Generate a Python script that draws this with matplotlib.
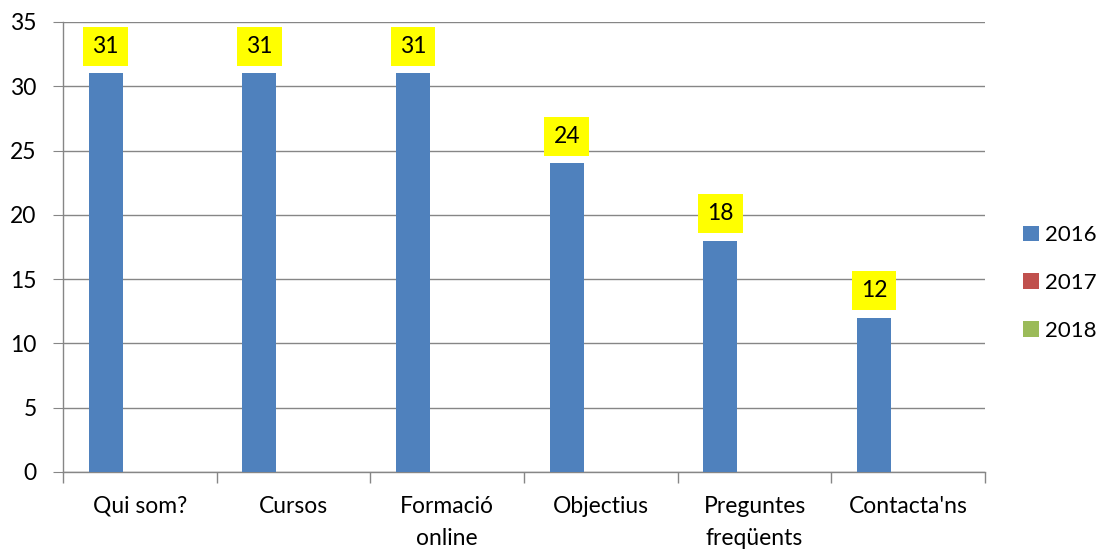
import matplotlib
matplotlib.use("Agg")
import matplotlib.pyplot as plt
import numpy as np

categories = ["Qui som?", "Cursos", "Formació\nonline", "Objectius", "Preguntes\nfreqüents", "Contacta'ns"]
series_names = ["2016", "2017", "2018"]
v2016 = [31, 31, 31, 24, 18, 12]
v2017 = [0, 0, 0, 0, 0, 0]
v2018 = [0, 0, 0, 0, 0, 0]
colors = ["#4F81BD", "#C0504D", "#9BBB59"]
yticks = [0, 5, 10, 15, 20, 25, 30, 35]

plt.rcParams['font.family'] = ['Lato', 'DejaVu Sans']
FS = 16.5

fig = plt.figure(figsize=(11.07, 5.51), dpi=100)
ax = fig.add_axes([63/1107, 79/551, (985-63)/1107, (472-22)/551])

n = len(categories)
x = np.arange(n)
bw = 1/4.5
offsets = [-bw, 0, bw]
data = [v2016, v2017, v2018]
bars = []
for i, (vals, c, nm) in enumerate(zip(data, colors, series_names)):
    b = ax.bar(x + offsets[i], vals, width=bw, color=c, label=nm, zorder=3)
    bars.append(b)

for rect, v in zip(bars[0], v2016):
    ax.annotate(str(v), (rect.get_x() + rect.get_width()/2, v), xytext=(0, 19.5),
                textcoords="offset points", ha="center", va="center", fontsize=FS,
                bbox=dict(boxstyle="square,pad=0.4", fc="#FFFF00", ec="none"), zorder=4)

ax.set_xlim(-0.5, n - 0.5)
ax.set_ylim(0, 35)
ax.set_yticks(yticks)
ax.tick_params(axis='y', labelsize=FS, length=7, color="#868686", pad=12)
ax.yaxis.grid(True, color="#868686", linewidth=1, zorder=0)
ax.set_axisbelow(True)

ax.set_xticks(x)
ax.set_xticklabels(categories, fontsize=FS, linespacing=1.65)
ax.tick_params(axis='x', which='major', length=0, pad=17)
ax.set_xticks(np.arange(-0.5, n, 1), minor=True)
ax.tick_params(axis='x', which='minor', length=8, color="#868686", width=1)

for s in ["top", "right"]:
    ax.spines[s].set_visible(False)
for s in ["left", "bottom"]:
    ax.spines[s].set_color("#868686")
    ax.spines[s].set_linewidth(1)

leg = ax.legend(loc="center left", bbox_to_anchor=(1.0195, 0.42), frameon=False, fontsize=16,
                handlelength=0.7, handleheight=0.7, handletextpad=0.3, labelspacing=1.25,
                borderpad=0.4)

fig.savefig("out.png", dpi=100)
